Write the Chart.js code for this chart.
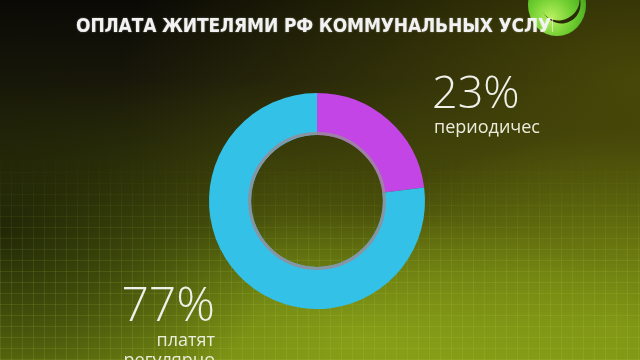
<!DOCTYPE html>
<html><head><meta charset="utf-8">
<script src="https://cdn.jsdelivr.net/npm/chart.js@4"></script>
<style>
html,body{margin:0;padding:0;width:640px;height:360px;overflow:hidden;}
body{position:relative;
 background:
  radial-gradient(ellipse 280px 220px at 0px 230px, rgba(15,18,4,0.7), rgba(15,18,4,0) 100%),
  radial-gradient(ellipse 300px 130px at 360px 340px, rgba(160,185,30,0.5), rgba(160,185,30,0) 100%),
  radial-gradient(ellipse 300px 200px at 620px 330px, rgba(150,175,25,0.55), rgba(150,175,25,0) 100%),
  radial-gradient(ellipse 520px 300px at 640px 80px, rgba(80,80,8,0.85), rgba(80,80,8,0) 100%),
  linear-gradient(to bottom, #0a0905 0%, #18170a 22%, #3d430a 50%, #5f7210 78%, #6f8612 100%);
}
#grid{position:absolute;left:0;top:150px;width:640px;height:210px;
 background-image:
  repeating-linear-gradient(to right, rgba(200,220,80,0.12) 0 1px, transparent 1px 11px),
  repeating-linear-gradient(to bottom, rgba(200,220,80,0.12) 0 1px, transparent 1px 11px);
 -webkit-mask-image:linear-gradient(to bottom, transparent, #000 60%);
 mask-image:linear-gradient(to bottom, transparent, #000 60%);}
#logo{position:absolute;left:528px;top:-26px;width:58px;height:62px;border-radius:50%;
 background:radial-gradient(circle at 40% 70%, #b8f060 0%, #6ccc2e 40%, #3a9a1c 80%, #1d5a10 100%);}
#swoosh{position:absolute;left:540px;top:-20px;width:40px;height:40px;border-radius:50%;
 border-bottom:4px solid #2a2a08;transform:rotate(-30deg);}
canvas{position:absolute;left:0;top:0;}
#title{position:absolute;left:76px;top:14px;width:477px;overflow:hidden;z-index:2;font-family:"DejaVu Sans Condensed","DejaVu Sans",sans-serif;
 font-weight:bold;font-size:19px;color:#f2f2f2;letter-spacing:-0.15px;white-space:nowrap;text-shadow:0 0 2px rgba(255,255,255,0.4);}
.pct{position:absolute;font-family:"Open Sans",sans-serif;font-weight:300;color:#f0f0ea;white-space:nowrap;line-height:1;}
.lbl{position:absolute;font-family:"Open Sans",sans-serif;font-weight:400;color:#ececdc;white-space:nowrap;line-height:1;}
</style></head>
<body>
<div id="grid"></div>
<div id="logo"></div><div id="swoosh"></div>
<div id="title"></div>
<canvas id="c" width="640" height="360"></canvas>
<div class="pct" id="p0" style="left:432px;top:68px;font-size:45px;"></div>
<div class="lbl" id="l0" style="left:434px;top:117px;font-size:18px;"></div>
<div class="pct" id="p1" style="right:425px;top:279px;font-size:48px;"></div>
<div class="lbl" id="l1" style="right:425px;top:329px;font-size:18px;text-align:right;line-height:20px;"></div>
<script>
const titleText = "ОПЛАТА ЖИТЕЛЯМИ РФ КОММУНАЛЬНЫХ УСЛУГ";
const categories = ["периодичес", "платят регулярно"];
const shares = [23, 77];
const colors = ["#c445e6", "#33c1e8"];

document.getElementById('title').textContent = titleText;
document.getElementById('p0').textContent = shares[0] + "%";
document.getElementById('l0').textContent = categories[0];
document.getElementById('p1').textContent = shares[1] + "%";
document.getElementById('l1').innerHTML = categories[1].split(" ").join("<br>");

const innerRing = {
  id: 'innerRing',
  afterDatasetsDraw(chart) {
    const arc = chart.getDatasetMeta(0).data[0];
    if (!arc) return;
    const ctx = chart.ctx;
    ctx.save();
    ctx.beginPath();
    ctx.arc(arc.x, arc.y, arc.innerRadius + 1.5, 0, Math.PI * 2);
    ctx.strokeStyle = 'rgba(150,140,150,0.85)';
    ctx.lineWidth = 3;
    ctx.stroke();
    ctx.restore();
  }
};

new Chart(document.getElementById('c'), {
  type: 'doughnut',
  data: { labels: categories, datasets: [{ data: shares, backgroundColor: colors, borderWidth: 0 }] },
  options: {
    responsive: false, animation: false, cutout: '61%',
    layout: { padding: { left: 209, right: 215, top: 93, bottom: 51 } },
    plugins: { legend: { display: false }, tooltip: { enabled: false } }
  },
  plugins: [innerRing]
});
</script>
</body></html>
